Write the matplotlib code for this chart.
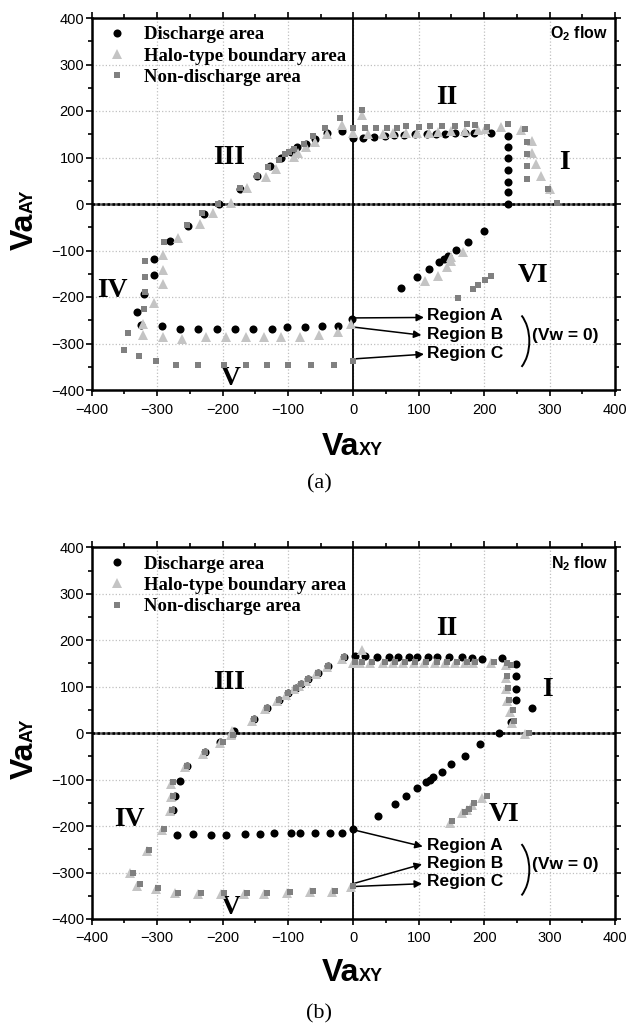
import matplotlib
matplotlib.use('Agg')
import matplotlib.pyplot as plt
from matplotlib.patches import Arc
import numpy as np

plt.rcParams['font.family'] = 'Liberation Sans'
plt.rcParams['mathtext.fontset'] = 'custom'
plt.rcParams['mathtext.bf'] = 'Liberation Sans:bold'
plt.rcParams['mathtext.rm'] = 'Liberation Sans:bold'
plt.rcParams['mathtext.default'] = 'bf'

# ---- (a) O2 flow ----
o2DischargeX = [-293,-265,-238,-209,-181,-153,-124,-101,-74,-48,-23,-2,
                -325,-331,-320,-305,-304,-280,-253,-229,-205,
                -174,-147,-128,-110,-96,-86,-72,-58,-40,-17,
                0,14,31,48,62,78,95,112,127,140,156,171,185,211,
                237,237,237,237,237,237,236,
                73,97,115,131,138,145,157,175,199]
o2DischargeY = [-263,-268,-268,-268,-268,-268,-268,-264,-264,-263,-263,-248,
                -260,-232,-194,-153,-119,-79,-47,-21,0,
                33,61,82,98,112,122,128,140,152,157,
                141,143,145,147,148,149,150,151,151,151,152,152,152,152,
                146,123,98,73,48,26,1,
                -181,-158,-139,-125,-118,-112,-99,-81,-57]

o2HaloX = [-291,-262,-225,-194,-164,-136,-110,-81,-53,-24,-3,
           -321,-321,-304,-291,-291,-291,-268,-235,-215,-187,
           -162,-134,-118,-90,-85,-72,-58,-40,-18,
           0,13,22,45,60,80,98,115,130,150,170,190,201,226,
           256,273,273,279,287,300,
           109,129,143,149,150,168]
o2HaloY = [-287,-290,-287,-287,-287,-287,-287,-285,-282,-275,-258,
           -282,-257,-212,-172,-142,-110,-74,-43,-20,3,
           34,57,75,102,109,123,134,150,170,
           152,191,150,150,152,152,153,153,155,156,158,160,162,166,
           159,136,110,87,61,33,
           -166,-155,-136,-123,-115,-103]

o2NonX = [-301,-271,-237,-198,-164,-132,-100,-64,-30,0,
          -327,-351,-344,-320,-318,-318,-318,-289,-255,-231,-207,
          -174,-147,-130,-114,-104,-98,-90,-75,-61,-43,-21,
          0,13,18,34,52,66,80,100,117,135,155,174,186,205,237,
          263,266,266,266,266,298,312,
          160,183,190,201,210]
o2NonY = [-338,-346,-346,-346,-346,-346,-346,-346,-346,-338,
          -327,-313,-277,-225,-189,-158,-122,-82,-46,-20,0,
          34,60,80,95,108,112,118,128,146,163,184,
          163,202,163,163,163,163,168,165,168,168,168,173,170,165,171,
          161,134,108,82,54,32,2,
          -203,-183,-174,-163,-155]

# ---- (b) N2 flow ----
n2DischargeX = [-269,-245,-218,-194,-165,-143,-122,-96,-81,-58,-36,-18,-1,
                -276,-272,-265,-254,-227,-204,-186,
                -183,-152,-132,-114,-100,-87,-80,-69,-54,-38,-15,
                2,18,36,54,69,85,97,114,128,146,166,182,197,227,
                249,249,249,249,273,
                37,63,81,97,111,117,122,135,150,171,194,222,241]
n2DischargeY = [-219,-218,-219,-219,-216,-216,-215,-214,-214,-214,-214,-214,-206,
                -166,-135,-104,-70,-41,-20,-4,
                5,30,54,72,86,97,105,116,130,145,163,
                165,165,163,163,163,163,163,163,163,163,163,162,160,161,
                148,122,95,72,54,
                -178,-152,-135,-118,-106,-100,-95,-84,-66,-50,-24,0,23]

n2HaloX = [-302,-272,-238,-203,-167,-137,-102,-67,-33,-4,
           -330,-341,-316,-293,-281,-279,-279,-258,-230,-204,-187,
           -186,-155,-135,-117,-103,-90,-83,-72,-57,-41,-18,
           13,0,10,26,45,60,76,92,108,125,140,155,171,183,211,
           233,233,234,235,240,243,263,
           148,166,173,181,197]
n2HaloY = [-336,-345,-347,-347,-346,-346,-344,-342,-342,-331,
           -328,-302,-254,-209,-168,-138,-110,-73,-44,-21,-5,
           4,27,51,69,83,94,102,113,127,142,160,
           179,152,152,152,152,152,152,152,152,152,152,152,152,152,152,
           147,119,94,69,46,22,-2,
           -193,-172,-166,-154,-140]

n2NonX = [-298,-268,-233,-198,-162,-132,-97,-62,-28,-1,
          -326,-337,-313,-289,-277,-276,-276,-254,-227,-200,-184,
          -152,-132,-114,-100,-87,-80,-69,-54,-38,-15,
          2,13,29,48,63,79,95,111,128,143,158,174,186,215,241,
          235,235,237,238,244,246,268,
          151,170,177,185,205]
n2NonY = [-333,-343,-345,-345,-344,-344,-342,-339,-339,-328,
          -325,-300,-251,-206,-165,-135,-106,-70,-41,-18,-3,
          30,54,72,86,97,105,116,130,145,163,
          154,154,154,154,154,154,154,154,154,154,154,154,154,154,147,
          150,122,97,72,49,26,0,
          -190,-169,-163,-151,-135]

romanLabels = ['I', 'II', 'III', 'IV', 'V', 'VI']
regionLabels = ['Region A', 'Region B', 'Region C']
legendLabels = ['Discharge area', 'Halo-type boundary area', 'Non-discharge area']
ticks = [-400, -300, -200, -100, 0, 100, 200, 300, 400]

W, H = 628, 1025
fig = plt.figure(figsize=(W/100, H/100), dpi=100)

serifBold = dict(family='Liberation Serif', weight='bold')


def drawPanel(ax, dX, dY, hX, hY, nX, nY, flow, romanPos, arrowStarts, arrowEnds, textYs, parenY):
    ax.set_xlim(-400, 400)
    ax.set_ylim(-400, 400)
    ax.set_xticks(ticks)
    ax.set_yticks(ticks)
    ax.set_xticks(np.arange(-350, 400, 100), minor=True)
    ax.set_yticks(np.arange(-350, 400, 100), minor=True)
    ax.grid(True, which='major', color='#c0c0c0', ls=':', lw=0.9)
    ax.set_axisbelow(True)
    ax.tick_params(which='major', direction='out', top=True, right=True, width=1.2, length=4)
    ax.tick_params(which='minor', direction='out', top=True, right=True, width=1.2, length=3)
    ax.tick_params(axis='x', which='major', pad=5, labelsize=10.5)
    ax.tick_params(axis='y', which='major', pad=1.5, labelsize=10.5)
    for s in ax.spines.values():
        s.set_linewidth(1.8)
    ax.axhline(0, color='#555555', lw=1.8, zorder=1)
    ax.axhline(0, color='black', lw=1.8, ls=(0, (1, 1)), zorder=1.1)
    ax.axvline(0, color='black', lw=1.3, zorder=1)

    l1, = ax.plot(dX, dY, 'o', color='black', ms=5.8, mew=0, ls='none', zorder=3)
    l2, = ax.plot(hX, hY, '^', color='#c4c4c4', ms=6.5, mew=0, ls='none', zorder=4)
    l3, = ax.plot(nX, nY, 's', color='#808080', ms=5.0, mew=0, ls='none', zorder=5)

    ax.legend([l1, l2, l3], legendLabels, loc='upper left', bbox_to_anchor=(0.03, 0.978),
              frameon=False, borderpad=0, borderaxespad=0, handlelength=1.0,
              handletextpad=0.95, labelspacing=0.22,
              prop=dict(family='Liberation Serif', weight='bold', size=13.5))

    ax.text(0.987, 0.957, flow, transform=ax.transAxes, ha='right', va='center',
            fontsize=11.5, weight='bold')

    for lab, (x, y) in zip(romanLabels, romanPos):
        ax.text(x, y, lab, ha='center', va='center', fontsize=20, **serifBold)

    for (x0, y0), (x1, y1) in zip(arrowStarts, arrowEnds):
        ax.annotate('', xy=(x1, y1), xytext=(x0, y0),
                    arrowprops=dict(arrowstyle='-|>', color='black', lw=1.1,
                                    mutation_scale=11, shrinkA=0, shrinkB=0))
    for lab, y in zip(regionLabels, textYs):
        ax.text(113, y, lab, ha='left', va='center', fontsize=12.5, weight='bold')
    # the big closing bracket
    ax.add_patch(Arc((237, parenY), 64, 142, theta1=-70, theta2=70, color='black', lw=1.4))
    ax.text(273, textYs[1] - 3, '(Vw = 0)', ha='left', va='center', fontsize=12.5, weight='bold')


def axisLabels(xStart, xBase, yBase, yStart, cap, capY):
    r = fig.canvas.get_renderer()
    t = fig.text(xStart / W, 1 - xBase / H, 'Va', fontsize=23, weight='bold',
                 ha='left', va='baseline')
    bb = t.get_window_extent(r)
    fig.text(bb.x1 / W, 1 - xBase / H, 'XY', fontsize=13, weight='bold',
             ha='left', va='baseline')
    t = fig.text(yBase / W, 1 - yStart / H, 'Va', fontsize=23, weight='bold', rotation=90,
                 rotation_mode='anchor', ha='left', va='baseline')
    bb = t.get_window_extent(r)
    fig.text(yBase / W, bb.y1 / H, 'AY', fontsize=13, weight='bold', rotation=90,
             rotation_mode='anchor', ha='left', va='baseline')
    fig.text(319 / W, 1 - capY / H, cap, ha='center', va='center', fontsize=16,
             family='Liberation Serif')


axA = fig.add_axes([91.7 / W, 1 - 390 / H, 523.3 / W, 372 / H])
drawPanel(axA, o2DischargeX, o2DischargeY, o2HaloX, o2HaloY, o2NonX, o2NonY,
          r'O$_2$ flow',
          [(323, 89), (143, 228), (-190, 101), (-368, -187), (-187, -375), (274, -153)],
          [(0, -245), (2, -265), (2, -333)], [(108, -244), (104, -282), (108, -323)],
          [-239, -280, -321], -295)

axB = fig.add_axes([91.7 / W, 1 - 919 / H, 523.3 / W, 371.7 / H])
drawPanel(axB, n2DischargeX, n2DischargeY, n2HaloX, n2HaloY, n2NonX, n2NonY,
          r'N$_2$ flow',
          [(296, 93), (143, 226), (-190, 108), (-342, -186), (-187, -376), (231, -176)],
          [(0, -208), (2, -323), (2, -330)], [(106, -244), (105, -282), (105, -324)],
          [-242, -280, -320], -294)

fig.canvas.draw()
axisLabels(321.7, 455, 33, 250, '(a)', 484)
axisLabels(321.7, 981, 33, 779, '(b)', 1014)

fig.savefig('out.png', dpi=100)
